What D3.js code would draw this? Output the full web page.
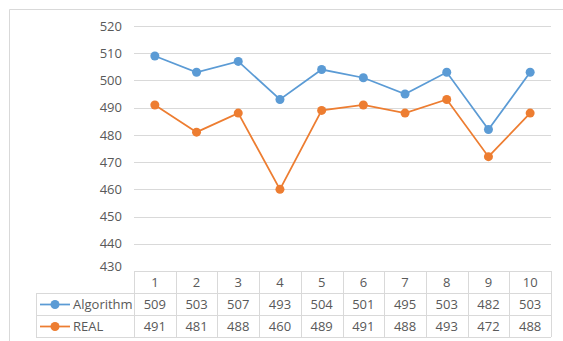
<!DOCTYPE html>
<html>
<head>
<meta charset="utf-8">
<script src="https://cdn.jsdelivr.net/npm/d3@7"></script>
<style>
  html, body { margin: 0; padding: 0; background: #fff; }
  svg { display: block; }
  text { font-family: "Open Sans", "Noto Sans", sans-serif; fill: #595959; }
</style>
</head>
<body>
<svg id="chart" width="563" height="341"></svg>
<script>
// Data
const categories = ["1", "2", "3", "4", "5", "6", "7", "8", "9", "10"];
const algorithm = [509, 503, 507, 493, 504, 501, 495, 503, 482, 503];
const real = [491, 481, 488, 460, 489, 491, 488, 493, 472, 488];
const yTicks = [430, 440, 450, 460, 470, 480, 490, 500, 510, 520];
const seriesNames = ["Algorithm", "REAL"];
const seriesColors = ["#5B9BD5", "#ED7D31"];

const series = [
  { name: seriesNames[0], values: algorithm, color: seriesColors[0] },
  { name: seriesNames[1], values: real, color: seriesColors[1] }
];

const svg = d3.select("#chart");
const W = 563, H = 341;

// Chart frame
svg.append("path")
  .attr("d", `M9.5,${H} V9.5 H${W}`)
  .attr("fill", "none")
  .attr("stroke", "#d9d9d9")
  .attr("stroke-width", 1);

const plotLeft = 134, plotRight = 551, plotTop = 26, plotBottom = 271;
const tableLeft = 36, rowH = 22;

const x = d3.scaleBand().domain(categories).range([plotLeft, plotRight]).padding(0);
const y = d3.scaleLinear().domain([430, 520]).range([plotBottom, plotTop]);

// Gridlines and value axis labels
const yAxis = d3.axisLeft(y).tickValues(yTicks).tickSize(0).tickPadding(12);
const gy = svg.append("g").attr("transform", `translate(${plotLeft},0)`).call(yAxis);
gy.select(".domain").remove();
gy.selectAll("text")
  .attr("font-size", 13)
  .attr("fill", "#595959")
  .style("font-family", "'Open Sans', sans-serif")
  .attr("dy", d => d === 430 ? "-0.05em" : "0.32em");

svg.append("g").selectAll("line")
  .data(yTicks.filter(t => t !== 430))
  .join("line")
  .attr("x1", plotLeft).attr("x2", plotRight)
  .attr("y1", d => Math.round(y(d)) + 0.5).attr("y2", d => Math.round(y(d)) + 0.5)
  .attr("stroke", "#d9d9d9").attr("stroke-width", 1);

// Series lines and markers
const line = d3.line()
  .x((d, i) => x(categories[i]) + x.bandwidth() / 2)
  .y(d => y(d));

series.forEach(s => {
  svg.append("path")
    .datum(s.values)
    .attr("d", line)
    .attr("fill", "none")
    .attr("stroke", s.color)
    .attr("stroke-width", 1.75);
  svg.append("g").selectAll("circle")
    .data(s.values)
    .join("circle")
    .attr("cx", (d, i) => x(categories[i]) + x.bandwidth() / 2)
    .attr("cy", d => y(d))
    .attr("r", 4.5)
    .attr("fill", s.color);
});

// Data table
const tbl = svg.append("g").attr("stroke", "#d9d9d9").attr("stroke-width", 1).attr("fill", "none");
const r0 = plotBottom, r1 = r0 + rowH, r2 = r1 + rowH, r3 = r2 + rowH;
// horizontal rules
tbl.append("line").attr("x1", plotLeft).attr("x2", plotRight).attr("y1", r0 + 0.5).attr("y2", r0 + 0.5);
[r1, r2, r3].forEach(r => tbl.append("line").attr("x1", tableLeft).attr("x2", plotRight).attr("y1", r + 0.5).attr("y2", r + 0.5));
// vertical rules
tbl.append("line").attr("x1", tableLeft + 0.5).attr("x2", tableLeft + 0.5).attr("y1", r1).attr("y2", r3);
categories.forEach(c => {
  const xx = Math.round(x(c)) + 0.5;
  tbl.append("line").attr("x1", xx).attr("x2", xx).attr("y1", r0).attr("y2", r3);
});
tbl.append("line").attr("x1", plotRight + 0.5).attr("x2", plotRight + 0.5).attr("y1", r0).attr("y2", r3);

// header row with category labels
svg.append("g").selectAll("text")
  .data(categories)
  .join("text")
  .attr("x", d => x(d) + x.bandwidth() / 2)
  .attr("y", r0 + rowH / 2)
  .attr("dy", "0.35em")
  .attr("text-anchor", "middle")
  .attr("font-size", 13)
  .text(d => d);

// series rows with legend keys and values
series.forEach((s, k) => {
  const top = r1 + k * rowH;
  const cy = top + rowH / 2 + 0.5;
  svg.append("line")
    .attr("x1", 40).attr("x2", 70).attr("y1", cy).attr("y2", cy)
    .attr("stroke", s.color).attr("stroke-width", 1.75);
  svg.append("circle").attr("cx", 55).attr("cy", cy).attr("r", 4.5).attr("fill", s.color);
  svg.append("text")
    .attr("x", 73).attr("y", cy).attr("dy", "0.35em")
    .attr("font-size", 13)
    .text(s.name);
  svg.append("g").selectAll("text")
    .data(s.values)
    .join("text")
    .attr("x", (d, i) => x(categories[i]) + x.bandwidth() / 2)
    .attr("y", cy).attr("dy", "0.35em")
    .attr("text-anchor", "middle")
    .attr("font-size", 13)
    .text(d => d);
});
</script>
</body>
</html>
